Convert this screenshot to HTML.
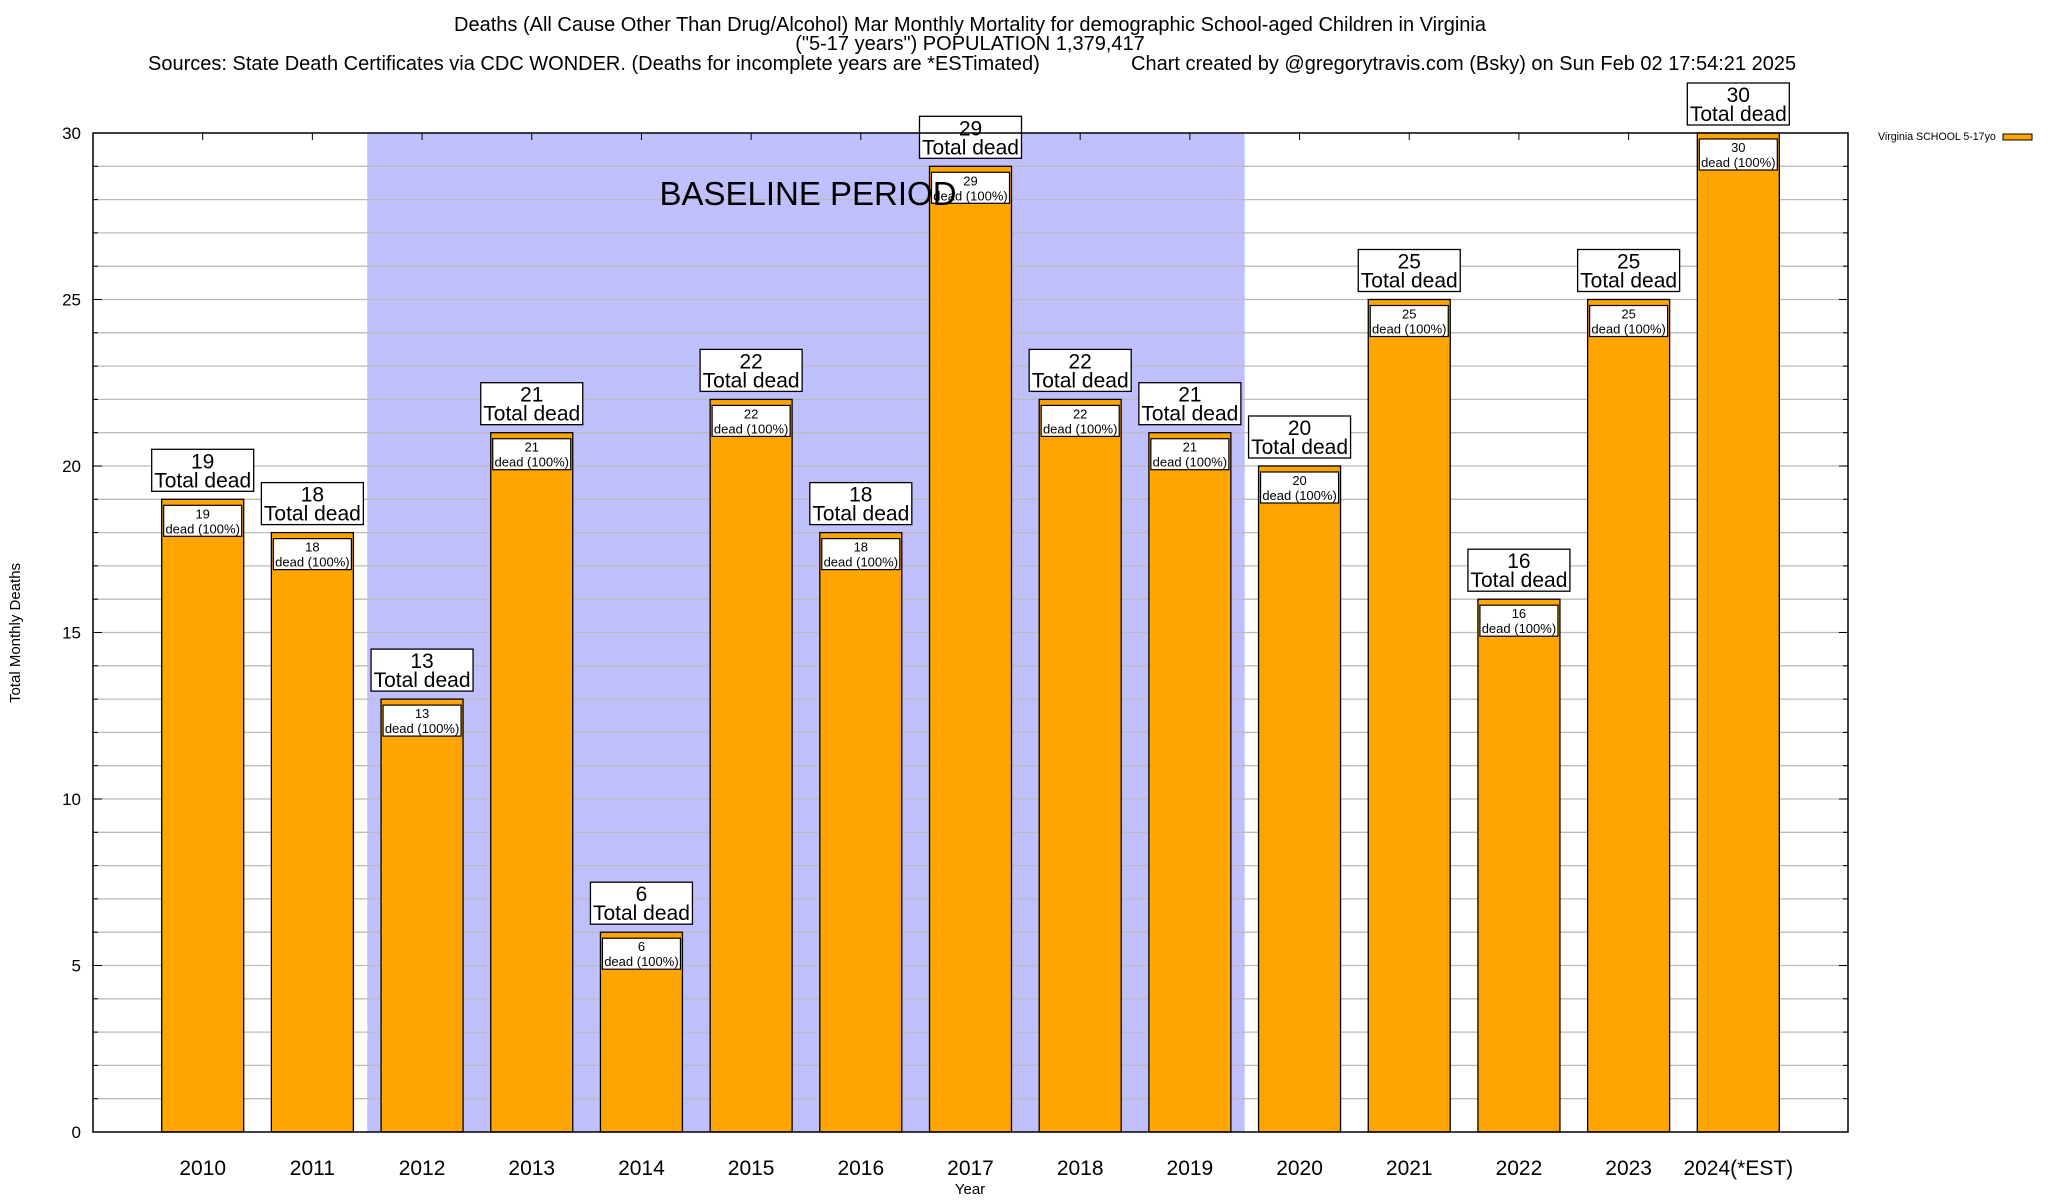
<!DOCTYPE html>
<html><head><meta charset="utf-8"><style>
html,body{margin:0;padding:0;background:#fff}
svg{display:block;font-family:"Liberation Sans",Arial,sans-serif}
</style></head><body>
<svg id="chart" width="2048" height="1200" viewBox="0 0 2048 1200">
<text x="970" y="31" font-size="20" text-anchor="middle">Deaths (All Cause Other Than Drug/Alcohol) Mar Monthly Mortality for demographic School-aged Children in Virginia</text>
<text x="970" y="50" font-size="20" text-anchor="middle">("5-17 years") POPULATION 1,379,417</text>
<text x="148" y="70" font-size="20">Sources: State Death Certificates via CDC WONDER. (Deaths for incomplete years are *ESTimated)</text>
<text x="1131" y="70" font-size="20">Chart created by @gregorytravis.com (Bsky) on Sun Feb 02 17:54:21 2025</text>
<g id="plot"></g>
<text transform="translate(20,633) rotate(-90)" font-size="15" text-anchor="middle">Total Monthly Deaths</text>
<text x="970" y="1194" font-size="15" text-anchor="middle">Year</text>
<text x="1878" y="140" font-size="10.6">Virginia SCHOOL 5-17yo</text>
<rect x="2003" y="134" width="29" height="6" fill="#ffa500" stroke="#000" stroke-width="1"/>
</svg>
<script>
const categories = ["2010","2011","2012","2013","2014","2015","2016","2017","2018","2019","2020","2021","2022","2023","2024(*EST)"];
const values = [19,18,13,21,6,22,18,29,22,21,20,25,16,25,30];
const yTicks = [0,5,10,15,20,25,30];
const baselineStart = 2; // index of 2012
const baselineEnd = 9;   // index of 2019

const L=93,R=1848,T=133,B=1132,yMax=30;
const slot=(R-L)/(categories.length+1);
const xc=i=>L+slot*(i+1);
const y=v=>B-(B-T)*v/yMax;
const NS="http://www.w3.org/2000/svg";
const g=document.getElementById('plot');
function mk(tag,attrs,parent){const e=document.createElementNS(NS,tag);for(const k in attrs)e.setAttribute(k,attrs[k]);(parent||g).appendChild(e);return e;}

let bg=mk('rect',{x:L,y:T,width:R-L,height:B-T,fill:'#fff'});


let band=mk('rect',{x:xc(baselineStart)-slot/2,y:T,width:slot*(baselineEnd-baselineStart+1),height:B-T,fill:'#c0c0ff'});


for(let v=1;v<yMax;v++){
  let ln=mk('line',{x1:L,x2:R,y1:y(v),y2:y(v),stroke:'#bbb','stroke-width':1.3});
  
  
}
yTicks.forEach(v=>{
  let t=mk('text',{x:81,y:y(v)+6,'font-size':17,'text-anchor':'end'});
  t.textContent=v;
  
  
});
for(let v=0;v<=yMax;v++){
  const len=v%5===0?9:5;
  mk('line',{x1:L,x2:L+len,y1:y(v),y2:y(v),stroke:'#000','stroke-width':1});
  mk('line',{x1:R-len,x2:R,y1:y(v),y2:y(v),stroke:'#000','stroke-width':1});
}
const bw=82;
categories.forEach((c,i)=>{
  const v=values[i],cx=xc(i),top=y(v);
  mk('line',{x1:cx,x2:cx,y1:T,y2:T+7,stroke:'#000'});
  let bar=mk('rect',{x:cx-bw/2,y:top,width:bw,height:B-top,fill:'#ffa500',stroke:'#000','stroke-width':1.3});
  
  
  let ib=mk('rect',{x:cx-bw/2+2,y:top+6,width:bw-4,height:31,fill:'#fff',stroke:'#000','stroke-width':1.2});
  
  
  let t1=mk('text',{x:cx,y:top+19,'font-size':13,'text-anchor':'middle'});t1.textContent=v;
  
  
  let t2=mk('text',{x:cx,y:top+34,'font-size':13,'text-anchor':'middle'});t2.textContent='dead (100%)';
  
  
  let ob=mk('rect',{x:cx-51,y:top-50,width:102,height:42,fill:'#fff',stroke:'#000','stroke-width':1.3});
  
  
  let o1=mk('text',{x:cx,y:top-31,'font-size':21,'text-anchor':'middle'});o1.textContent=v;
  
  
  let o2=mk('text',{x:cx,y:top-12,'font-size':21,'text-anchor':'middle'});o2.textContent='Total dead';
  
  
  let xl=mk('text',{x:cx,y:1175,'font-size':21,'text-anchor':'middle'});xl.textContent=c;
  
  
});
let bt=mk('text',{x:808,y:205,'font-size':33,'text-anchor':'middle'});
bt.textContent='BASELINE PERIOD';


let fr=mk('rect',{x:L,y:T,width:R-L,height:B-T,fill:'none',stroke:'#000','stroke-width':1.5});


</script>
</body></html>
